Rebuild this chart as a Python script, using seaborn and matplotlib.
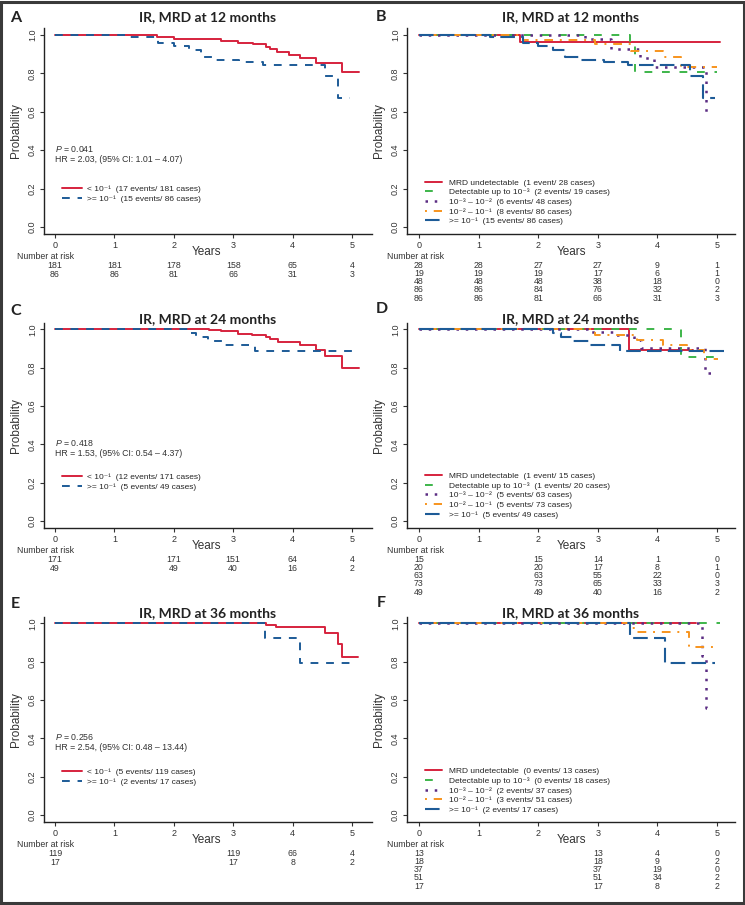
import pandas as pd
import matplotlib.pyplot as plt
import seaborn as sns
from matplotlib.patches import Rectangle

# ---- data (years, survival probability) ----
# panel A / C / E: two groups (< 10^-1 and >= 10^-1)
a_lo_t = [0, 1.72, 2.0, 2.8, 3.08, 3.33, 3.55, 3.62, 3.74, 3.94, 4.12, 4.4, 4.84, 5.12]
a_lo_s = [1, 0.988, 0.978, 0.968, 0.96, 0.953, 0.94, 0.925, 0.91, 0.895, 0.878, 0.856, 0.809, 0.809]
a_hi_t = [0, 1.2, 1.74, 2.0, 2.25, 2.45, 2.69, 3.1, 3.5, 4.55, 4.77, 4.97]
a_hi_s = [1, 0.99, 0.956, 0.943, 0.922, 0.884, 0.872, 0.858, 0.843, 0.787, 0.674, 0.674]

c_lo_t = [0, 2.6, 2.8, 3.08, 3.31, 3.55, 3.62, 3.76, 4.12, 4.4, 4.55, 4.84, 5.12]
c_lo_s = [1, 0.995, 0.99, 0.978, 0.97, 0.96, 0.948, 0.934, 0.917, 0.89, 0.859, 0.8, 0.8]
c_hi_t = [0, 2.25, 2.38, 2.58, 2.85, 3.37, 5.08]
c_hi_s = [1, 0.98, 0.96, 0.94, 0.918, 0.887, 0.887]

e_lo_t = [0, 3.55, 3.72, 4.55, 4.77, 4.84, 5.1]
e_lo_s = [1, 0.99, 0.98, 0.948, 0.893, 0.826, 0.826]
e_hi_t = [0, 3.54, 4.12, 5.05]
e_hi_s = [1, 0.925, 0.793, 0.793]

# panel B / D / F: five groups
b_und_t = [0, 1.7, 5.05]
b_und_s = [1, 0.965, 0.965]
b_det_t = [0, 3.54, 3.63, 5.0]
b_det_s = [1, 0.955, 0.805, 0.805]
b_m3_t = [0, 2.78, 3.22, 3.7, 3.95, 4.82, 4.83]
b_m3_s = [1, 0.979, 0.926, 0.882, 0.835, 0.58, 0.58]
b_m2_t = [0, 1.75, 2.95, 3.55, 4.1, 4.4, 5.0]
b_m2_s = [1, 0.975, 0.955, 0.918, 0.884, 0.835, 0.835]
b_hi_t = a_hi_t
b_hi_s = a_hi_s

d_und_t = [0, 3.53, 4.6]
d_und_s = [1, 0.89, 0.89]
d_det_t = [0, 4.4, 5.05]
d_det_s = [1, 0.857, 0.857]
d_m3_t = [0, 2.85, 3.3, 3.6, 3.72, 4.8, 4.9, 4.93]
d_m3_s = [1, 0.984, 0.97, 0.945, 0.905, 0.773, 0.752, 0.752]
d_m2_t = [0, 2.95, 3.65, 4.1, 4.5, 4.78, 5.02]
d_m2_s = [1, 0.972, 0.944, 0.918, 0.89, 0.845, 0.845]
d_hi_t = [0, 2.25, 2.38, 2.58, 2.85, 3.37, 5.12]
d_hi_s = [1, 0.98, 0.96, 0.94, 0.918, 0.887, 0.887]

f_und_t = [0, 4.64]
f_und_s = [1, 1]
f_det_t = [0, 5.05]
f_det_s = [1, 1]
f_m3_t = [0, 4.74, 4.81, 4.89]
f_m3_s = [1, 0.83, 0.557, 0.557]
f_m2_t = [0, 3.57, 3.65, 4.53, 4.97]
f_m2_s = [1, 0.975, 0.953, 0.878, 0.878]
f_hi_t = [0, 3.54, 4.12, 4.97]
f_hi_s = [1, 0.925, 0.793, 0.793]

# legend labels
a_labels = ["< 10\u207b\u00b9  (17 events/ 181 cases)", ">= 10\u207b\u00b9  (15 events/ 86 cases)"]
c_labels = ["< 10\u207b\u00b9  (12 events/ 171 cases)", ">= 10\u207b\u00b9  (5 events/ 49 cases)"]
e_labels = ["< 10\u207b\u00b9  (5 events/ 119 cases)", ">= 10\u207b\u00b9  (2 events/ 17 cases)"]
b_labels = ["MRD undetectable  (1 event/ 28 cases)", "Detectable up to 10\u207b\u00b3  (2 events/ 19 cases)",
            "10\u207b\u00b3 \u2013 10\u207b\u00b2  (6 events/ 48 cases)", "10\u207b\u00b2 \u2013 10\u207b\u00b9  (8 events/ 86 cases)",
            ">= 10\u207b\u00b9  (15 events/ 86 cases)"]
d_labels = ["MRD undetectable  (1 event/ 15 cases)", "Detectable up to 10\u207b\u00b3  (1 events/ 20 cases)",
            "10\u207b\u00b3 \u2013 10\u207b\u00b2  (5 events/ 63 cases)", "10\u207b\u00b2 \u2013 10\u207b\u00b9  (5 events/ 73 cases)",
            ">= 10\u207b\u00b9  (5 events/ 49 cases)"]
f_labels = ["MRD undetectable  (0 events/ 13 cases)", "Detectable up to 10\u207b\u00b3  (0 events/ 18 cases)",
            "10\u207b\u00b3 \u2013 10\u207b\u00b2  (2 events/ 37 cases)", "10\u207b\u00b2 \u2013 10\u207b\u00b9  (3 events/ 51 cases)",
            ">= 10\u207b\u00b9  (2 events/ 17 cases)"]

a_stats = ["$P$ = 0.041", "HR = 2.03, (95% CI: 1.01 \u2013 4.07)"]
c_stats = ["$P$ = 0.418", "HR = 1.53, (95% CI: 0.54 \u2013 4.37)"]
e_stats = ["$P$ = 0.256", "HR = 2.54, (95% CI: 0.48 \u2013 13.44)"]

# number at risk tables
a_risk_years = [0, 1, 2, 3, 4, 5]
a_risk = [[181, 181, 178, 158, 65, 4], [86, 86, 81, 66, 31, 3]]
b_risk = [[28, 28, 27, 27, 9, 1], [19, 19, 19, 17, 6, 1], [48, 48, 48, 38, 18, 0],
          [86, 86, 84, 76, 32, 2], [86, 86, 81, 66, 31, 3]]
c_risk_years = [0, 2, 3, 4, 5]
c_risk = [[171, 171, 151, 64, 4], [49, 49, 40, 16, 2]]
d_risk = [[15, 15, 14, 1, 0], [20, 20, 17, 8, 1], [63, 63, 55, 22, 0],
          [73, 73, 65, 33, 3], [49, 49, 40, 16, 2]]
e_risk_years = [0, 3, 4, 5]
e_risk = [[119, 119, 66, 4], [17, 17, 8, 2]]
f_risk = [[13, 13, 4, 0], [18, 18, 9, 2], [37, 37, 19, 0], [51, 51, 34, 2], [17, 17, 8, 2]]

titles = ["IR, MRD at 12 months", "IR, MRD at 24 months", "IR, MRD at 36 months"]

# ---- style ----
RED, GREEN, PURPLE, ORANGE, BLUE = '#D6223D', '#3DB54A', '#5B2C83', '#F7941D', '#1D5B97'
sns.set_theme(style='ticks')
plt.rcParams['font.family'] = ['Liberation Sans', 'DejaVu Sans']
plt.rcParams['mathtext.fontset'] = 'custom'
plt.rcParams['mathtext.it'] = 'Liberation Sans:italic'
plt.rcParams['mathtext.rm'] = 'Liberation Sans'
W, H = 745, 905
PT = 0.72  # px -> pt at 100 dpi

fig = plt.figure(figsize=(W / 100, H / 100), dpi=100)
fig.patch.set_facecolor('white')


def make_ax(left_px, top_px, bottom_px):
    ax = fig.add_axes([left_px / W, 1 - bottom_px / H, 328 / W, (bottom_px - top_px) / H])
    return ax


def km(ax, t, s, color, ls, lw, label):
    df = pd.DataFrame({'time': t, 'surv': s})
    sns.lineplot(data=df, x='time', y='surv', ax=ax, color=color, linestyle=ls, linewidth=lw,
                 drawstyle='steps-post', estimator=None, sort=False, label=label)


def below(ax, x, px, s, **kw):
    ax.annotate(s, xy=(x, 0), xycoords=('data', 'axes fraction'), xytext=(0, -px * PT),
                textcoords='offset points', va='center', annotation_clip=False, **kw)


def style_ax(ax, xlim):
    ax.set_xlim(*xlim)
    ax.set_ylim(-0.035, 1.035)
    ax.set_xticks([0, 1, 2, 3, 4, 5])
    ax.set_yticks([0, 0.2, 0.4, 0.6, 0.8, 1.0])
    ax.set_yticklabels(['0.0', '0.2', '0.4', '0.6', '0.8', '1.0'])
    ax.set_xlabel('')
    ax.set_ylabel('')
    sns.despine(ax=ax)
    for sp in ['left', 'bottom']:
        ax.spines[sp].set_linewidth(1.0)
        ax.spines[sp].set_color('#222222')
    ax.tick_params(length=3, width=0.8, pad=2, labelsize=6.5, colors='#333333')
    for lab in ax.get_yticklabels():
        lab.set_rotation(90)
        lab.set_va('center')
    below(ax, 2.55, 18.5, 'Years', ha='center', fontsize=8.5, color='#333333')
    ax.annotate('Probability', xy=(0, 0.5), xycoords='axes fraction', xytext=(-28 * PT, 0),
                textcoords='offset points', rotation=90, ha='center', va='center',
                fontsize=8.5, color='#333333')


def risk_table(ax, years, rows, first_px, step_px, label_x):
    below(ax, label_x, 23, 'Number at risk', ha='left', fontsize=6.3, color='#333333')
    for i, row in enumerate(rows):
        for yr, n in zip(years, row):
            below(ax, yr, first_px + i * step_px, str(n), ha='center', fontsize=6.3, color='#333333')


rows_px = [(28.3, 233.7), (322.6, 527.7), (616.6, 821.7)]
left_xlim = (-0.185, 5.337)
right_xlim = (-0.2, 5.3)

two_group = [(a_lo_t, a_lo_s, a_hi_t, a_hi_s, a_labels, a_stats, a_risk_years, a_risk, 0.193),
             (c_lo_t, c_lo_s, c_hi_t, c_hi_s, c_labels, c_stats, c_risk_years, c_risk, 0.224),
             (e_lo_t, e_lo_s, e_hi_t, e_hi_s, e_labels, e_stats, e_risk_years, e_risk, 0.219)]
five_group = [([b_und_t, b_det_t, b_m3_t, b_m2_t, b_hi_t], [b_und_s, b_det_s, b_m3_s, b_m2_s, b_hi_s],
               b_labels, a_risk_years, b_risk, 0.154),
              ([d_und_t, d_det_t, d_m3_t, d_m2_t, d_hi_t], [d_und_s, d_det_s, d_m3_s, d_m2_s, d_hi_s],
               d_labels, c_risk_years, d_risk, 0.157),
              ([f_und_t, f_det_t, f_m3_t, f_m2_t, f_hi_t], [f_und_s, f_det_s, f_m3_s, f_m2_s, f_hi_s],
               f_labels, e_risk_years, f_risk, 0.151)]

five_styles = [(RED, '-', 1.4), (GREEN, (0, (4, 5)), 1.4), (PURPLE, (0, (1, 2.7)), 1.8),
               (ORANGE, (0, (1, 3.5, 4.5, 3.5)), 1.4), (BLUE, (0, (7, 3)), 1.5)]

for r, (top, bot) in enumerate(rows_px):
    # left column
    lo_t, lo_s, hi_t, hi_s, labels, stats, ryears, risk, leg_y = two_group[r]
    ax = make_ax(44, top, bot)
    km(ax, lo_t, lo_s, RED, '-', 1.4, labels[0])
    km(ax, hi_t, hi_s, BLUE, (0, (4, 4)), 1.4, labels[1])
    style_ax(ax, left_xlim)
    ax.legend(loc='center left', bbox_to_anchor=(0.055, leg_y), frameon=False, fontsize=6,
              handlelength=2.4, handletextpad=0.6, labelspacing=0.3, borderpad=0, borderaxespad=0)
    ax.text(0, 0.405, stats[0], fontsize=6.3, va='center', ha='left', color='#333333')
    ax.text(0, 0.353, stats[1], fontsize=6.3, va='center', ha='left', color='#333333')
    risk_table(ax, ryears, risk, 31.5, 9.5, -0.64)

    # right column
    ts, ss, labels, ryears, risk, leg_y = five_group[r]
    ax = make_ax(407, top, bot)
    for t, s, (col, ls, lw), lab in zip(ts, ss, five_styles, labels):
        km(ax, t, s, col, ls, lw, lab)
    style_ax(ax, right_xlim)
    ax.legend(loc='center left', bbox_to_anchor=(0.056, leg_y), frameon=False, fontsize=6,
              handlelength=2.0, handletextpad=0.8, labelspacing=0.22, borderpad=0, borderaxespad=0)
    risk_table(ax, ryears, risk, 31.3, 8.3, -0.54)

# titles and panel letters
title_y = [17.3, 319, 613.3]
for r in range(3):
    for xc in (208, 571):
        fig.text(xc / W, 1 - title_y[r] / H, titles[r], ha='center', va='center', fontsize=10,
                 fontweight='bold', family=['Lato', 'DejaVu Sans'], color='#222222')
for letter, (x, y) in zip('ABCDEF', [(15.5, 17.5), (381, 17), (16, 311), (382, 309), (15, 604), (381, 603)]):
    fig.text(x / W, 1 - y / H, letter, ha='center', va='center', fontsize=11.5, fontweight='bold',
             family=['Lato', 'DejaVu Sans'], color='#222222')

fig.patches.append(Rectangle((0.002, 0.002), 0.996, 0.996, transform=fig.transFigure, fill=False,
                             lw=2.2, edgecolor='#3a3a3a'))

fig.savefig('out.png', dpi=100)
